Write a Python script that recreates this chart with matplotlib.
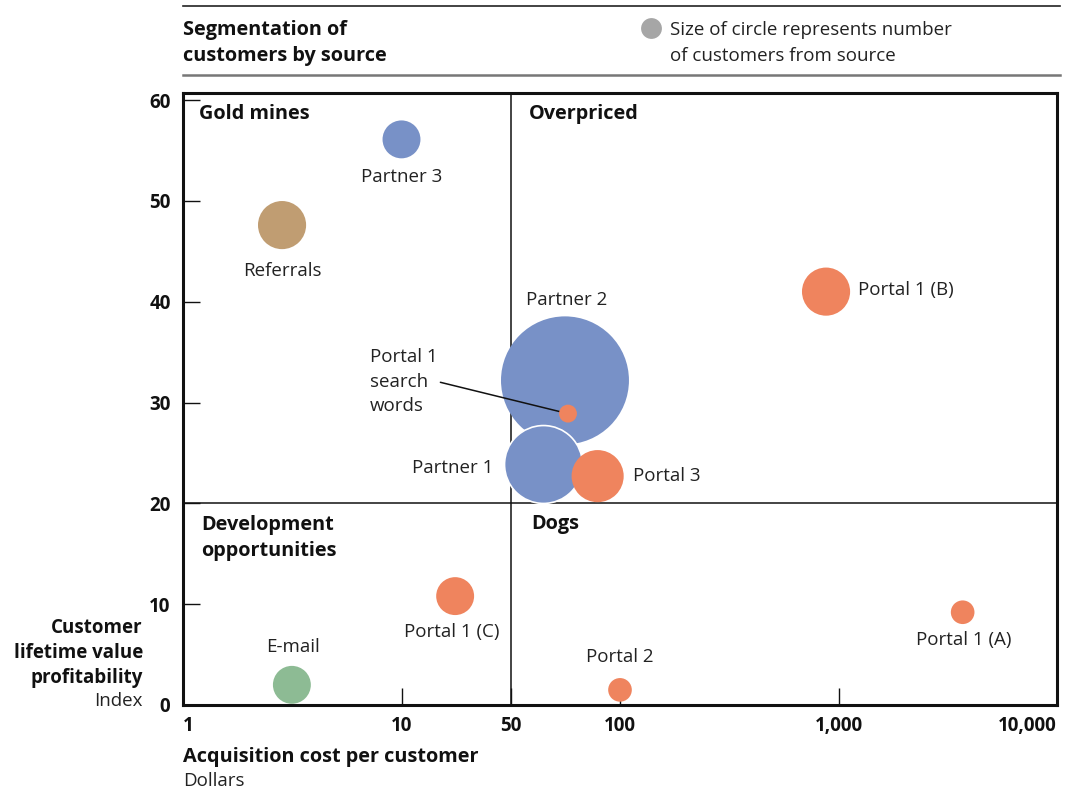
import numpy as np
import matplotlib
matplotlib.use('Agg')
import matplotlib.pyplot as plt
from matplotlib.lines import Line2D

plt.rcParams['font.family'] = ['Open Sans', 'DejaVu Sans']

# Datos
sources = ['Partner 2', 'Partner 1', 'Portal 1 search words', 'Portal 3', 'Partner 3',
           'Referrals', 'Portal 1 (B)', 'Portal 1 (C)', 'E-mail', 'Portal 2', 'Portal 1 (A)']
cost = [56, 44.4, 57.8, 79, 10, 2.84, 877, 17.6, 3.15, 100, 3700]
value = [32.2, 23.9, 28.9, 22.7, 56.1, 47.6, 41.0, 10.8, 2.0, 1.5, 9.2]
customers = [410, 152, 8, 68, 36, 58, 58, 36, 36, 14, 14]
groups = ['partner', 'partner', 'portal', 'portal', 'partner',
          'referral', 'portal', 'portal', 'email', 'portal', 'portal']

x_ticks = [1, 10, 10 ** 1.5, 100, 1000, 10000]
x_tick_labels = ['1', '10', '50', '100', '1,000', '10,000']
y_ticks = [0, 10, 20, 30, 40, 50, 60]

colors = {'partner': '#7891C7', 'portal': '#EF845E', 'referral': '#C09D72', 'email': '#8DBB94'}

# offsets de las etiquetas en pixeles (dx, dy, ha)
label_pos = {
    'Partner 2': (2, 80, 'center'),
    'Partner 1': (-50, -4, 'right'),
    'Portal 3': (35, 0, 'left'),
    'Partner 3': (0, -38, 'center'),
    'Referrals': (0, -46, 'center'),
    'Portal 1 (B)': (32, 2, 'left'),
    'Portal 1 (C)': (-3, -36, 'center'),
    'E-mail': (1, 38, 'center'),
    'Portal 2': (0, 33, 'center'),
    'Portal 1 (A)': (1, -28, 'center'),
}

W, H = 1066, 802
fig = plt.figure(figsize=(W / 100, H / 100), dpi=100)
ax = fig.add_axes([183 / W, 1 - 705 / H, (1057 - 183) / W, (705 - 93) / H])

ax.set_xscale('log')
ax.set_xlim(1, 10000)
ax.set_ylim(0, 60.7)

# cuadrantes
ax.axvline(10 ** 1.5, color='#111111', lw=1.1, zorder=1)
ax.axhline(20, color='#111111', lw=1.1, zorder=1)

# burbujas
for i, name in enumerate(sources):
    edge = 'white' if name == 'Partner 1' else 'none'
    ax.scatter(cost[i], value[i], s=customers[i] * 20.7, color=colors[groups[i]],
               edgecolors=edge, linewidths=1.2, zorder=3 + i * 0.01)

txt = dict(fontsize=13.5, color='#222222')
for i, name in enumerate(sources):
    if name in label_pos:
        dx, dy, ha = label_pos[name]
        ax.annotate(name, (cost[i], value[i]), xytext=(dx, dy), textcoords='offset pixels',
                    ha=ha, va='center', **txt)

i = sources.index('Portal 1 search words')
ax.annotate('Portal 1\nsearch\nwords', (cost[i], value[i]), xytext=(-198, 32),
            textcoords='offset pixels', ha='left', va='center', linespacing=1.45,
            arrowprops=dict(arrowstyle='-', color='#111111', lw=1.1, relpos=(1, 0.5),
                            shrinkA=0, shrinkB=5), **txt)

quad = dict(fontsize=14.3, fontweight='bold', color='#111111', transform=ax.transAxes, va='center')
ax.text(16 / 874, 1 - 21 / 612, 'Gold mines', **quad)
ax.text(346 / 874, 1 - 21 / 612, 'Overpriced', **quad)
ax.text(18 / 874, 1 - 445 / 612, 'Development\nopportunities', linespacing=1.35, **quad)
ax.text(348 / 874, 1 - 431 / 612, 'Dogs', **quad)

# ejes
ax.set_xticks(x_ticks)
ax.set_xticklabels(x_tick_labels)
ax.xaxis.set_minor_locator(matplotlib.ticker.NullLocator())
ax.set_yticks(y_ticks)
ax.tick_params(direction='in', length=12, width=1.0, labelsize=13.5, colors='#111111', pad=8)
for lab in ax.get_xticklabels() + ax.get_yticklabels():
    lab.set_fontweight('bold')
xlabs = ax.get_xticklabels()
xlabs[0].set_horizontalalignment('left')
xlabs[-1].set_horizontalalignment('right')
ax.tick_params(axis='y', pad=9)
for sp in ax.spines.values():
    sp.set_linewidth(2.2)
    sp.set_color('#111111')

# titulos de ejes
ax.text(-40 / 874, 52 / 612, 'Customer\nlifetime value\nprofitability', transform=ax.transAxes,
        ha='right', va='center', fontsize=13.5, fontweight='bold', color='#111111', linespacing=1.35)
ax.text(-40 / 874, 4 / 612, 'Index', transform=ax.transAxes, ha='right', va='center',
        fontsize=13.5, color='#222222')
fig.text(183 / W, 1 - 757 / H, 'Acquisition cost per customer', ha='left', va='center',
         fontsize=14.3, fontweight='bold', color='#111111')
fig.text(183 / W, 1 - 781 / H, 'Dollars', ha='left', va='center', fontsize=13.5, color='#222222')

# cabecera
fig.add_artist(Line2D([183 / W, 1060 / W], [1 - 6 / H, 1 - 6 / H], color='#222222', lw=1.2))
fig.add_artist(Line2D([183 / W, 1060 / W], [1 - 75 / H, 1 - 75 / H], color='#777777', lw=1.8))
fig.text(183 / W, 1 - 43 / H, 'Segmentation of\ncustomers by source', ha='left', va='center',
         fontsize=14.3, fontweight='bold', color='#111111', linespacing=1.45)
fig.add_artist(Line2D([651 / W], [1 - 28 / H], marker='o', markersize=15, color='#A6A6A6',
                      markeredgewidth=0))
fig.text(670 / W, 1 - 43 / H, 'Size of circle represents number\nof customers from source', ha='left',
         va='center', fontsize=13.5, color='#222222', linespacing=1.55)

fig.savefig('out.png', dpi=100)
